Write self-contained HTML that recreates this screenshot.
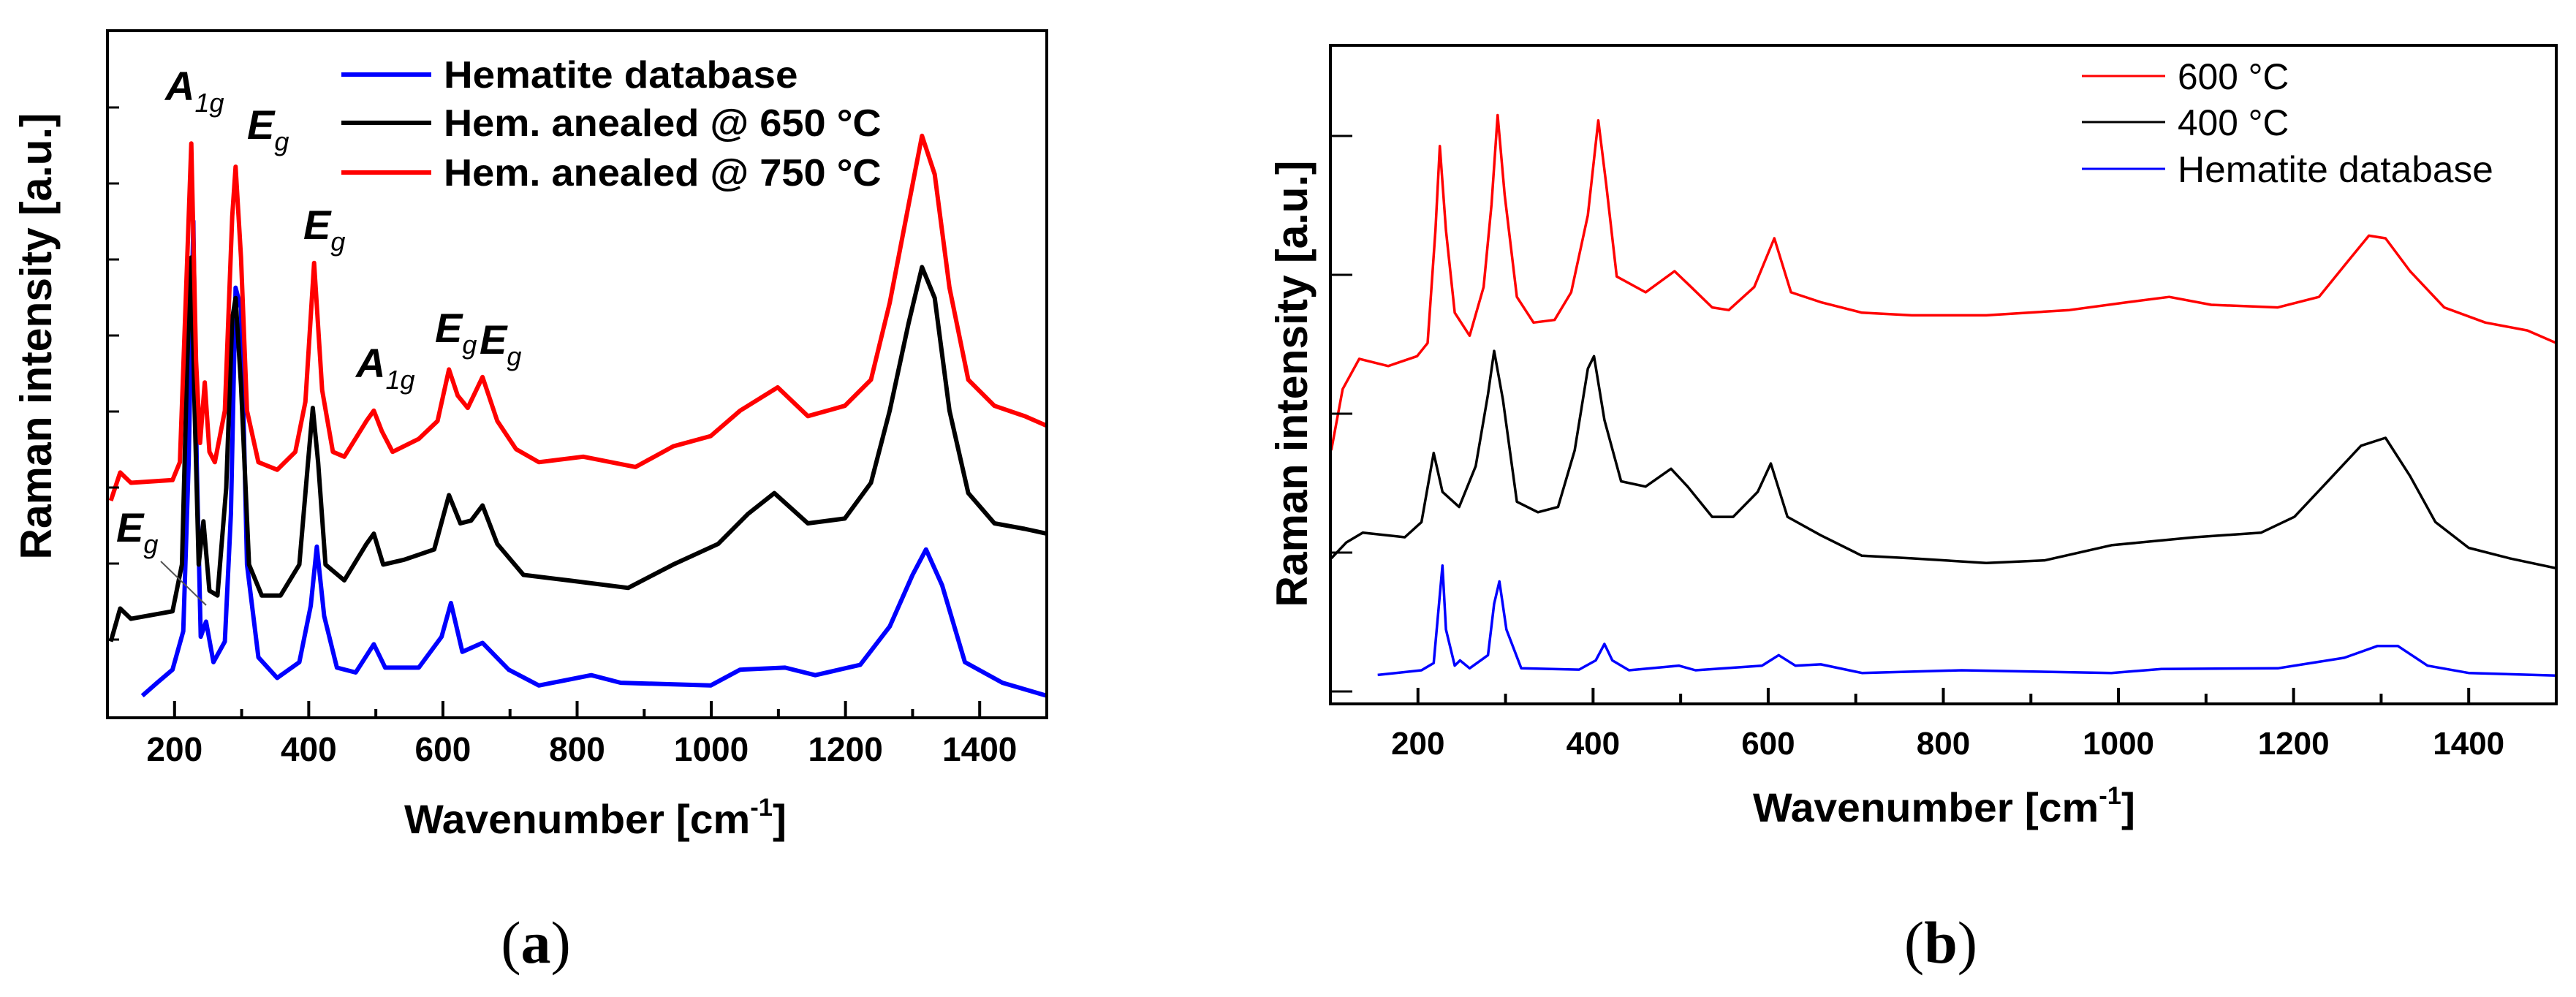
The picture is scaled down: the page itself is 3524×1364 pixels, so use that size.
<!DOCTYPE html>
<html><head><meta charset="utf-8"><style>
html,body{margin:0;padding:0;background:#fff;}
svg{display:block;font-family:"Liberation Sans",Arial,sans-serif;}
</style></head><body>
<svg id="fig" width="3524" height="1364" viewBox="0 0 3524 1364" xmlns="http://www.w3.org/2000/svg">
<g id="pa"></g>
<g id="pb"></g>
</svg>
<script>
// ---------- Panel (a) data ----------
const aRedX=[105,119,135,197,208,219,225,232,238,245,252,260,275,286,291,299,308,325,353,380,395,408,420,436,453,486,497,509,525,564,592,609,622,637,659,681,709,743,809,887,943,999,1043,1099,1144,1199,1238,1266,1294,1314,1333,1355,1383,1422,1467,1500];
const aRedY=[31.6,35.7,34.2,34.6,37.2,67,83.6,52,40,48.8,38.7,37.2,44.7,73,80.2,67,44.7,37.2,36.1,38.7,46,66.2,47.7,38.7,38,43.2,44.7,41.7,38.7,40.6,43.2,50.7,46.9,45.1,49.6,43.2,39.1,37.2,38,36.5,39.5,41,44.7,48.1,43.9,45.4,49.2,60.4,74.6,84.7,79.1,62.6,49.2,45.4,43.9,42.5];
const aBlackX=[105,119,135,197,211,219,225,230,236,243,252,264,277,286,291,299,311,330,358,386,399,406,414,425,453,486,497,511,542,587,609,626,642,659,681,720,787,876,943,1010,1055,1094,1144,1199,1238,1266,1294,1314,1333,1355,1383,1422,1467,1500];
const aBlackY=[11.1,15.9,14.4,15.5,22.3,52,67,44.7,22.3,28.6,18.5,17.8,33.5,58.1,61.1,48.4,22.3,17.8,17.8,22.3,37.2,45.1,37.2,22.3,20,25.3,26.8,22.3,23,24.5,32.4,28.3,28.7,30.9,25.3,20.8,20,18.9,22.3,25.3,29.7,32.7,28.3,29,34.2,44.7,57.4,65.6,61.1,44.7,32.7,28.3,27.5,26.8];
const aBlueX=[152,174,197,213,221,228,233,239,247,258,275,284,291,299,308,325,353,386,403,412,423,442,470,497,514,564,598,612,629,659,698,743,821,865,999,1043,1110,1155,1222,1266,1300,1320,1344,1378,1434,1500];
const aBlueY=[3.2,5.1,7,12.6,37.2,72.3,37.2,11.8,14,8.1,11.1,29.7,62.6,59.6,22.3,8.8,5.8,8.1,16.3,24.9,14.8,7.3,6.6,10.7,7.3,7.3,11.8,16.7,9.6,10.9,7,4.7,6.2,5.1,4.7,7,7.3,6.2,7.7,13.3,20.8,24.5,19.3,8.1,5.1,3.2];
const aTickLabels=[200,400,600,800,1000,1200,1400];
const aLegendLabels=["Hematite database","Hem. anealed @ 650 °C","Hem. anealed @ 750 °C"];
// ---------- Panel (b) data ----------
const bRedX=[101,114,133,166,199,211,220,225,232,242,259,275,284,291,299,313,332,356,375,394,406,415,427,460,493,512,536,555,584,607,626,660,707,764,849,944,1011,1058,1106,1182,1229,1262,1286,1305,1333,1372,1419,1467,1500];
const bRedY=[38.5,47.8,52.4,51.3,52.8,54.8,71.9,84.7,71.9,59.4,55.9,63.3,75.8,89.4,77.3,61.8,57.9,58.3,62.5,74.2,88.6,78.9,64.9,62.5,65.7,63.3,60.2,59.8,63.3,70.7,62.5,61,59.4,59,59,59.8,61,61.8,60.6,60.2,61.8,67.2,71.1,70.7,65.7,60.2,57.9,56.7,54.8];
const bBlackX=[101,118,137,185,204,218,228,247,266,280,287,297,313,337,360,379,394,401,413,432,460,489,508,536,560,588,603,622,660,707,764,849,916,992,1087,1163,1201,1239,1277,1305,1333,1362,1400,1447,1500];
const bBlackY=[22.1,24.5,26,25.3,27.6,38.1,32.2,29.9,36.1,47,53.6,46.2,30.7,29.1,29.9,38.5,50.9,52.8,43.1,33.8,33,35.7,33,28.4,28.4,32.2,36.5,28.4,25.6,22.5,22.1,21.4,21.8,24.1,25.3,26,28.4,33.8,39.2,40.4,34.6,27.6,23.7,22.1,20.6];
const bBlueX=[154,204,218,223,228,232,242,248,259,280,287,293,301,318,384,403,413,422,441,498,517,593,612,631,660,707,821,992,1049,1182,1258,1296,1319,1353,1400,1500];
const bBlueY=[4.4,5.1,6.2,13.6,21,11.3,5.8,6.6,5.4,7.4,15.2,18.6,11.3,5.4,5.2,6.6,9.1,6.6,5.1,5.8,5.1,5.8,7.4,5.8,6,4.7,5.1,4.7,5.3,5.4,7,8.8,8.8,5.8,4.7,4.3];
const bTickLabels=[200,400,600,800,1000,1200,1400];
const bLegendLabels=["600 °C","400 °C","Hematite database"];

const NS="http://www.w3.org/2000/svg";
function mk(parent,tag,attrs,text){const e=document.createElementNS(NS,tag);for(const k in attrs)e.setAttribute(k,attrs[k]);if(text!==undefined)e.textContent=text;parent.appendChild(e);return e;}
function axisX(L,R){return v=>L+(v-100)/1400*(R-L);}
function axisY(T,B){return v=>B-v/100*(B-T);}
function pathD(xs,ys,sx,sy){return xs.map((x,i)=>(i?"L":"M")+sx(x).toFixed(1)+","+sy(ys[i]).toFixed(1)).join(" ");}

// ----- Panel a -----
(function(){
const g=document.getElementById('pa');
const L=147,R=1432,T=42,B=982;
const sx=axisX(L,R), sy=axisY(T,B);
const clip=mk(g,'clipPath',{id:'ca'});mk(clip,'rect',{x:L,y:T,width:R-L,height:B-T});
const series=[[aBlueX,aBlueY,'#0000ff','series-hematite-database'],[aBlackX,aBlackY,'#000','series-650C'],[aRedX,aRedY,'#ff0000','series-750C']];
series.forEach(s=>{const p=mk(g,'path',{d:pathD(s[0],s[1],sx,sy),fill:'none',stroke:s[2],'stroke-width':6,'stroke-linejoin':'round','clip-path':'url(#ca)'});

});
const frame=mk(g,'rect',{x:L,y:T,width:R-L,height:B-T,fill:'none',stroke:'#000','stroke-width':4});


for(let v=200;v<=1500;v+=100){const maj=v%200===0;mk(g,'line',{x1:sx(v),x2:sx(v),y1:B,y2:B-(maj?23:12),stroke:'#000','stroke-width':4});}
aTickLabels.forEach(v=>{const t=mk(g,'text',{x:sx(v),y:1041,'text-anchor':'middle','font-size':46,'font-weight':'bold'},String(v));

});
for(let y=147;y<B-20;y+=104){mk(g,'line',{x1:L,x2:L+16,y1:y,y2:y,stroke:'#000','stroke-width':3});}
const yt=mk(g,'text',{x:0,y:0,transform:'translate(70,460) rotate(-90)','text-anchor':'middle','font-size':60,'font-weight':'bold',textLength:611,lengthAdjust:'spacingAndGlyphs'},'Raman intensity [a.u.]');


const xt=mk(g,'text',{x:553,y:1140,'font-size':56,'font-weight':'bold',textLength:523,lengthAdjust:'spacingAndGlyphs'});


xt.innerHTML='Wavenumber [cm<tspan dy="-24" font-size="34">-1</tspan><tspan dy="24">]</tspan>';
const cols=['#0000ff','#000','#ff0000'], ly=[102,168,236];
aLegendLabels.forEach((lab,i)=>{const le=mk(g,'g',{});


mk(le,'line',{x1:467,x2:590,y1:ly[i],y2:ly[i],stroke:cols[i],'stroke-width':6});
mk(le,'text',{x:607,y:ly[i]+18,'font-size':52,'font-weight':'bold',textLength:lab.length*28.5,lengthAdjust:'spacingAndGlyphs'},lab);});
const ann=[[226,137,'A','1g'],[338,190,'E','g'],[415,327,'E','g'],[487,516,'A','1g'],[595,468,'E','g'],[656,484,'E','g'],[159,741,'E','g']];
ann.forEach(a=>{const t=mk(g,'text',{x:a[0],y:a[1],'font-size':56,'font-style':'italic','font-weight':'bold'});


t.innerHTML=a[2]+'<tspan dy="16" font-size="36" font-weight="normal">'+a[3]+'</tspan>';});
mk(g,'line',{x1:220,y1:768,x2:282,y2:828,stroke:'#555','stroke-width':2});
const pl=mk(g,'text',{x:733,y:1317,'text-anchor':'middle','font-size':82,'font-family':'Liberation Serif, serif'});


pl.innerHTML='(<tspan font-weight="bold">a</tspan>)';
})();

// ----- Panel b -----
(function(){
const g=document.getElementById('pb');
const L=1820,R=3497,T=62,B=963;
const sx=axisX(L,R), sy=axisY(T,B);
const clip=mk(g,'clipPath',{id:'cb'});mk(clip,'rect',{x:L,y:T,width:R-L,height:B-T});
const series=[[bBlueX,bBlueY,'#0000ff','series-hematite-database-b'],[bBlackX,bBlackY,'#000','series-400C'],[bRedX,bRedY,'#ff0000','series-600C']];
series.forEach(s=>{const p=mk(g,'path',{d:pathD(s[0],s[1],sx,sy),fill:'none',stroke:s[2],'stroke-width':3.5,'stroke-linejoin':'round','clip-path':'url(#cb)'});

});
const frame=mk(g,'rect',{x:L,y:T,width:R-L,height:B-T,fill:'none',stroke:'#000','stroke-width':4});


for(let v=200;v<=1500;v+=100){const maj=v%200===0;mk(g,'line',{x1:sx(v),x2:sx(v),y1:B,y2:B-(maj?22:14),stroke:'#000','stroke-width':4});}
bTickLabels.forEach(v=>{const t=mk(g,'text',{x:sx(v),y:1032,'text-anchor':'middle','font-size':44,'font-weight':'bold'},String(v));

});
[186,376,566,756,946].forEach(y=>mk(g,'line',{x1:L,x2:L+30,y1:y,y2:y,stroke:'#000','stroke-width':3}));
const yt=mk(g,'text',{x:0,y:0,transform:'translate(1788,525) rotate(-90)','text-anchor':'middle','font-size':60,'font-weight':'bold',textLength:611,lengthAdjust:'spacingAndGlyphs'},'Raman intensity [a.u.]');


const xt=mk(g,'text',{x:2398,y:1124,'font-size':56,'font-weight':'bold',textLength:523,lengthAdjust:'spacingAndGlyphs'});


xt.innerHTML='Wavenumber [cm<tspan dy="-24" font-size="34">-1</tspan><tspan dy="24">]</tspan>';
const cols=['#ff0000','#000','#0000ff'], ly=[104,167,231];
bLegendLabels.forEach((lab,i)=>{const le=mk(g,'g',{});


mk(le,'line',{x1:2848,x2:2962,y1:ly[i],y2:ly[i],stroke:cols[i],'stroke-width':3});
mk(le,'text',{x:2979,y:ly[i]+18,'font-size':50,textLength:lab.length*25.4,lengthAdjust:'spacingAndGlyphs'},lab);});
const pl=mk(g,'text',{x:2655,y:1317,'text-anchor':'middle','font-size':82,'font-family':'Liberation Serif, serif'});


pl.innerHTML='(<tspan font-weight="bold">b</tspan>)';
})();
</script>
</body></html>
